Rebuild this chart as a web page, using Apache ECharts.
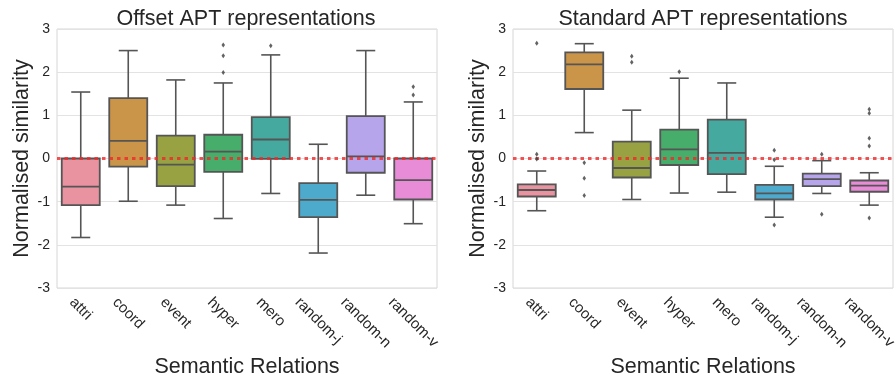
<!DOCTYPE html>
<html>
<head>
<meta charset="utf-8">
<script src="https://cdn.jsdelivr.net/npm/echarts@6/dist/echarts.min.js"></script>
<style>
html,body{margin:0;padding:0;background:#fff;}
#chart{width:896px;height:379px;}
</style>
</head>
<body>
<div id="chart"></div>
<script>
// ---- data ----
const categories = ['attri','coord','event','hyper','mero','random-j','random-n','random-v'];
const yTicks = [-3,-2,-1,0,1,2,3];

const offsetLow    = [-1.83, -0.99, -1.08, -1.39, -0.81, -2.19, -0.85, -1.51];
const offsetQ1     = [-1.08, -0.19, -0.64, -0.31, -0.01, -1.36, -0.33, -0.95];
const offsetMedian = [-0.65,  0.41, -0.14,  0.16,  0.44, -0.96,  0.05, -0.50];
const offsetQ3     = [ 0.00,  1.40,  0.53,  0.55,  0.96, -0.57,  0.98,  0.00];
const offsetHigh   = [ 1.54,  2.50,  1.82,  1.75,  2.40,  0.33,  2.50,  1.31];
const offsetOutliers = [
  ['hyper', 1.99], ['hyper', 2.38], ['hyper', 2.63],
  ['mero', 2.61],
  ['random-v', 1.47], ['random-v', 1.66]
];

const standardLow    = [-1.21, 0.60, -0.95, -0.80, -0.78, -1.36, -0.81, -1.08];
const standardQ1     = [-0.88, 1.61, -0.44, -0.15, -0.36, -0.95, -0.64, -0.77];
const standardMedian = [-0.73, 2.18, -0.22,  0.21,  0.13, -0.81, -0.48, -0.63];
const standardQ3     = [-0.60, 2.46,  0.39,  0.67,  0.90, -0.61, -0.35, -0.51];
const standardHigh   = [-0.29, 2.66,  1.12,  1.86,  1.75, -0.18, -0.05, -0.33];
const standardOutliers = [
  ['attri', 2.67], ['attri', 0.10], ['attri', -0.01],
  ['coord', -0.10], ['coord', -0.46], ['coord', -0.86],
  ['event', 2.37], ['event', 2.23],
  ['hyper', 2.01],
  ['random-j', 0.19], ['random-j', -0.03], ['random-j', -1.54],
  ['random-n', 0.10], ['random-n', -1.29],
  ['random-v', 1.14], ['random-v', 1.05], ['random-v', 0.47], ['random-v', 0.29], ['random-v', -1.38]
];

// ---- styles ----
const palette = ['#e8939f','#ca9449','#98a243','#46ad6b','#45a9a0','#4eaacd','#b7a5eb','#e88cd7'];
const FONT = '"Liberation Sans", Arial, sans-serif';
const TEXT = '#262626';
const LINE = '#555555';
const XLABEL_SIZE = 15;
const BIG = 21.5;

const chart = echarts.init(document.getElementById('chart'), null, {renderer: 'canvas'});

// measure label widths so rotated labels are centred on their ticks
const ctx = document.createElement('canvas').getContext('2d');
ctx.font = XLABEL_SIZE + 'px "Liberation Sans"';
function catData() {
  return categories.map(c => {
    const w = ctx.measureText(c).width;
    const p = w / 2;
    return {value: c, textStyle: {align: 'center', verticalAlign: 'middle',
      padding: [0, 0, 0, p], lineHeight: p}};
  });
}

function boxRows(lo, q1, md, q3, hi) {
  return categories.map((c, i) => [i, lo[i], q1[i], md[i], q3[i], hi[i]]);
}

function renderBox(params, api) {
  const i = api.value(0);
  const lo = api.coord([i, api.value(1)]);
  const q1 = api.coord([i, api.value(2)]);
  const md = api.coord([i, api.value(3)]);
  const q3 = api.coord([i, api.value(4)]);
  const hi = api.coord([i, api.value(5)]);
  const band = api.size([1, 0])[0];
  const w = band * 0.8;
  const cap = w * 0.25;
  const x = md[0];
  const ls = {stroke: LINE, lineWidth: 1.6};
  return {
    type: 'group',
    children: [
      {type: 'line', shape: {x1: x, y1: q3[1], x2: x, y2: hi[1]}, style: ls},
      {type: 'line', shape: {x1: x, y1: q1[1], x2: x, y2: lo[1]}, style: ls},
      {type: 'line', shape: {x1: x - cap, y1: hi[1], x2: x + cap, y2: hi[1]}, style: ls},
      {type: 'line', shape: {x1: x - cap, y1: lo[1], x2: x + cap, y2: lo[1]}, style: ls},
      {type: 'rect', shape: {x: x - w / 2, y: q3[1], width: w, height: q1[1] - q3[1]},
        style: {fill: palette[i], stroke: LINE, lineWidth: 1.8}},
      {type: 'line', shape: {x1: x - w / 2, y1: md[1], x2: x + w / 2, y2: md[1]}, style: {stroke: LINE, lineWidth: 1.8}}
    ]
  };
}

function xAxisCfg(gi) {
  return {
    type: 'category', gridIndex: gi, data: catData(),
    boundaryGap: true,
    axisLine: {show: false}, axisTick: {show: false}, splitLine: {show: false},
    axisLabel: {interval: 0, rotate: -45, align: 'center', verticalAlign: 'middle',
      margin: 12, fontSize: XLABEL_SIZE, fontFamily: FONT, color: TEXT, hideOverlap: false,
      formatter: v => '\n' + v},
    name: 'Semantic Relations', nameLocation: 'middle', nameGap: 68, nameMoveOverlap: false,
    nameTextStyle: {fontSize: BIG, fontFamily: FONT, color: TEXT}
  };
}
function yAxisCfg(gi) {
  return {
    type: 'value', gridIndex: gi, min: -3, max: 3, interval: 1,
    axisLine: {show: false}, axisTick: {show: false},
    splitLine: {show: true, lineStyle: {color: '#e3e3e3', width: 1}},
    axisLabel: {margin: 7, fontSize: 14, fontFamily: FONT, color: TEXT,
      formatter: v => (yTicks.indexOf(v) >= 0 ? String(v) : '')},
    name: 'Normalised similarity', nameLocation: 'middle', nameGap: 24, nameMoveOverlap: false,
    nameTextStyle: {fontSize: BIG, fontFamily: FONT, color: TEXT}
  };
}

const zeroLine = {
  silent: true, symbol: 'none', label: {show: false},
  lineStyle: {color: 'rgba(240,40,40,0.8)', width: 3, type: [3.5, 4], opacity: 1},
  emphasis: {disabled: true},
  data: [{yAxis: 0}]
};

function outlierSeries(gi, data) {
  return {
    type: 'scatter', xAxisIndex: gi, yAxisIndex: gi, data: data,
    symbol: 'diamond', symbolSize: [3.5, 5],
    itemStyle: {color: '#3c3c3c'}, z: 5, silent: true,
    markLine: zeroLine
  };
}

const option = {
  animation: false,
  backgroundColor: '#ffffff',
  title: [
    {text: 'Offset APT representations', left: 246, top: 8, padding: 0, textAlign: 'center',
      textStyle: {fontSize: BIG, fontWeight: 'normal', fontFamily: FONT, color: TEXT}},
    {text: 'Standard APT representations', left: 703, top: 8, padding: 0, textAlign: 'center',
      textStyle: {fontSize: BIG, fontWeight: 'normal', fontFamily: FONT, color: TEXT}}
  ],
  grid: [
    {left: 57, width: 380, top: 29, height: 259, show: true, borderColor: '#d6d6d6', borderWidth: 1,
      backgroundColor: 'transparent', containLabel: false, outerBoundsMode: 'none'},
    {left: 513, width: 380, top: 29, height: 259, show: true, borderColor: '#d6d6d6', borderWidth: 1,
      backgroundColor: 'transparent', containLabel: false, outerBoundsMode: 'none'}
  ],
  xAxis: [xAxisCfg(0), xAxisCfg(1)],
  yAxis: [yAxisCfg(0), yAxisCfg(1)],
  series: [
    {type: 'custom', xAxisIndex: 0, yAxisIndex: 0, renderItem: renderBox, z: 2, silent: true,
      encode: {x: 0, y: [1, 2, 3, 4, 5]},
      data: boxRows(offsetLow, offsetQ1, offsetMedian, offsetQ3, offsetHigh)},
    outlierSeries(0, offsetOutliers),
    {type: 'custom', xAxisIndex: 1, yAxisIndex: 1, renderItem: renderBox, z: 2, silent: true,
      encode: {x: 0, y: [1, 2, 3, 4, 5]},
      data: boxRows(standardLow, standardQ1, standardMedian, standardQ3, standardHigh)},
    outlierSeries(1, standardOutliers)
  ]
};
chart.setOption(option);
</script>
</body>
</html>
